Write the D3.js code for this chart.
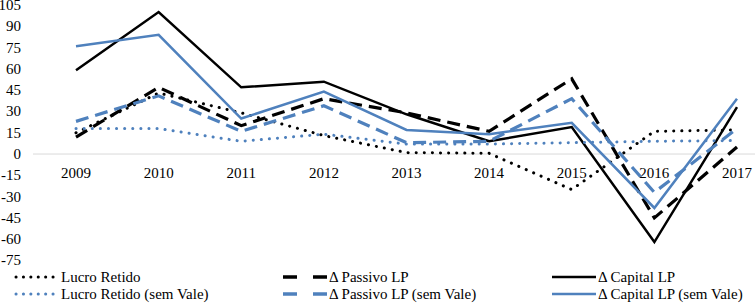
<!DOCTYPE html>
<html><head><meta charset="utf-8">
<script src="https://cdn.jsdelivr.net/npm/d3@7"></script>
<style>body{margin:0;background:#fff}</style>
</head><body><svg id="c" width="755" height="303"></svg>
<script>
const years = ["2009","2010","2011","2012","2013","2014","2015","2016","2017"];
const yTicks = [105,90,75,60,45,30,15,0,-15,-30,-45,-60,-75];
const lucroRetido = [15,43,29,13,1,0.5,-25,16,17];
const passivoLP = [12,47,20,39,29,16,53,-45,5];
const capitalLP = [59,100,47,51,28,9,19,-62,33];
const lucroRetidoSV = [18,18,9,14,7,7,8,9,9.5];
const passivoLPSV = [23,41,16,34,8,9,39,-27,18];
const capitalLPSV = [76,84,25,44,17,14,22,-38,39];
const names = ["Lucro Retido","Δ Passivo LP","Δ Capital LP","Lucro Retido (sem Vale)","Δ Passivo LP (sem Vale)","Δ Capital LP (sem Vale)"];

const FONT = '"Liberation Serif"';
const BLUE = "#4f81bd";
const styles = [
  {c:"#000", w:3, dash:"0.1,8", cap:"round"},
  {c:"#000", w:3.2, dash:"13,7", cap:"butt"},
  {c:"#000", w:2.5, dash:null, cap:"butt"},
  {c:BLUE, w:3, dash:"0.1,8", cap:"round"},
  {c:BLUE, w:3.2, dash:"13,7", cap:"butt"},
  {c:BLUE, w:2.5, dash:null, cap:"butt"}
];
const series = [lucroRetido, passivoLP, capitalLP, lucroRetidoSV, passivoLPSV, capitalLPSV];

const svg = d3.select("#c");
const x = d3.scaleBand().domain(years).range([34.7, 778.3]);
const y = d3.scaleLinear().domain([-75,105]).range([260.5,5]);

// y labels
svg.append("g").selectAll("text").data(yTicks).join("text")
  .style("font-family",FONT).style("font-size","15px")
  .attr("x",21).attr("y",d=>y(d)).attr("dy","0.33em")
  .attr("text-anchor","end").text(d=>d);

// zero line
svg.append("line").attr("x1",33).attr("x2",755).attr("y1",y(0)).attr("y2",y(0))
  .attr("stroke","#d9d9d9").attr("stroke-width",1);

// x labels
svg.append("g").selectAll("text").data(years).join("text")
  .style("font-family",FONT).style("font-size","15px")
  .attr("x",d=>x(d)+x.bandwidth()/2).attr("y",178)
  .attr("text-anchor","middle").text(d=>d);

const line = d3.line().x((d,i)=>x(years[i])+x.bandwidth()/2).y(d=>y(d));
series.forEach((s,k)=>{
  const st = styles[k];
  const p = svg.append("path").attr("d",line(s)).attr("fill","none")
    .attr("stroke",st.c).attr("stroke-width",st.w).attr("stroke-linecap",st.cap)
    .attr("stroke-linejoin","miter");
  if(st.dash) p.attr("stroke-dasharray",st.dash);
});

// legend
const legCols = [15, 283, 552];
const legRows = [277, 294];
names.forEach((n,k)=>{
  const col = k%3, row = Math.floor(k/3);
  const st = styles[k];
  const x0 = legCols[col], yy = legRows[row];
  const l = svg.append("line").attr("x1",x0).attr("x2",x0+44).attr("y1",yy).attr("y2",yy)
    .attr("stroke",st.c).attr("stroke-width",st.w).attr("stroke-linecap",st.cap);
  if(k%3===0) l.attr("x1",x0+1).attr("stroke-dasharray","0.1,7.3");
  if(k%3===1) l.attr("stroke-dasharray","14,16").attr("stroke-width",3.5);
  svg.append("text").style("font-family",FONT).style("font-size","15px")
    .attr("x",x0+46).attr("y",yy).attr("dy","0.33em").text(n);
});
</script></body></html>
